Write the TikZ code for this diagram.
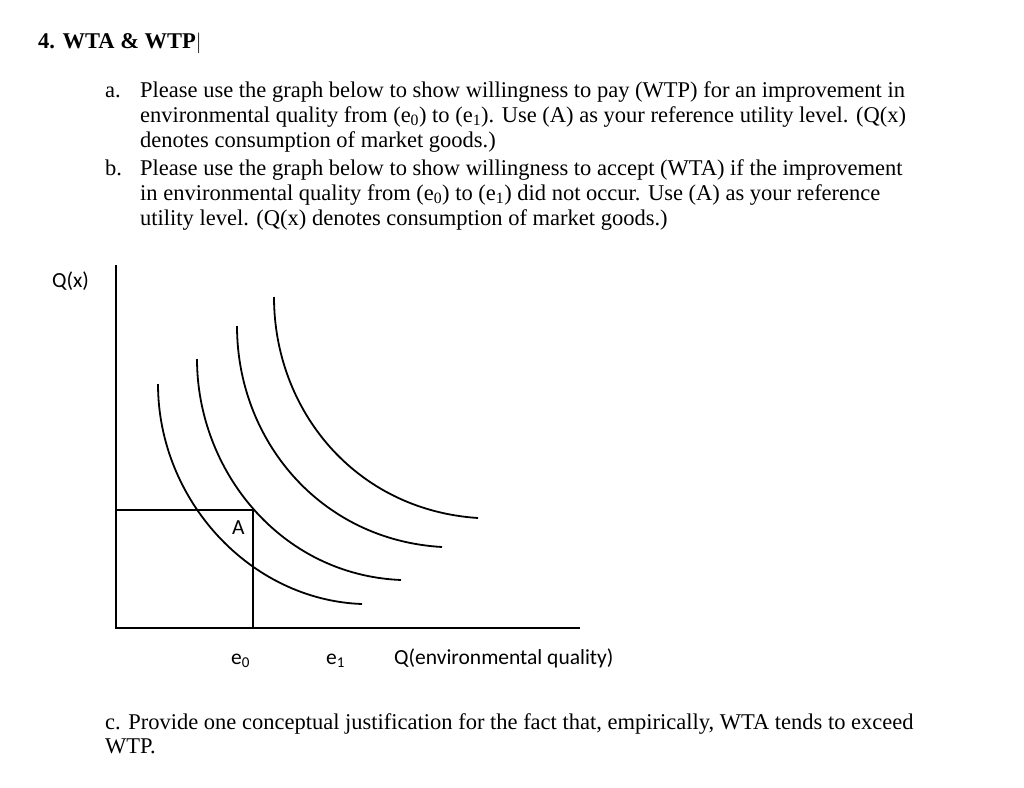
\documentclass[tikz,border=0pt]{standalone}
\usepackage{fontspec}
\setmainfont{Liberation Serif}
\newfontfamily\carlitofont{Carlito}
\begin{document}
\begin{tikzpicture}[x=1pt,y=-1pt,
  tx/.style={anchor=base west,inner sep=0pt,font=\fontsize{22.5}{25}\selectfont},
  lb/.style={anchor=base west,inner sep=0pt,font=\carlitofont\fontsize{21.5}{24}\selectfont},
  ln/.style={line width=1.8pt}]
\useasboundingbox (0,0) rectangle (1024,787);
\node[tx,font=\bfseries\fontsize{22.5}{25}\selectfont] (t) at (38,48) {4. WTA \& WTP$|$};
\node[tx] (a) at (105,97) {a.};
\node[tx] (a1) at (140,97) {Please use the graph below to show willingness to pay (WTP) for an improvement in};
\node[tx] (a2) at (140,122) {environmental quality from (e\textsubscript{0}) to (e\textsubscript{1}). Use (A) as your reference utility level. (Q(x)};
\node[tx] (a3) at (140,147) {denotes consumption of market goods.)};
\node[tx] (b) at (105,175) {b.};
\node[tx] (b1) at (140,175) {Please use the graph below to show willingness to accept (WTA) if the improvement};
\node[tx] (b2) at (140,200) {in environmental quality from (e\textsubscript{0}) to (e\textsubscript{1}) did not occur. Use (A) as your reference};
\node[tx] (b3) at (140,225) {utility level. (Q(x) denotes consumption of market goods.)};
\node[tx] (c1) at (105,729) {c. Provide one conceptual justification for the fact that, empirically, WTA tends to exceed};
\node[tx] (c2) at (105,753) {WTP.};
\node[lb] (qx) at (52,287) {Q(x)};
\node[lb] (e0) at (231,664) {e\textsubscript{0}};
\node[lb] (e1) at (326,664) {e\textsubscript{1}};
\node[lb] (qe) at (394,664) {Q(environmental quality)};
\node[lb] (A) at (232,534) {A};
\coordinate (o) at (116,628);
\coordinate (ytop) at (116,265);
\coordinate (xend) at (580,628);
\draw[ln] (ytop) -- (o) -- (xend);
\draw[ln] (116,510) -- (253,510) -- (253,628);
\draw[ln] (158,384) .. controls (158,500) and (250,600) .. (362,604);
\draw[ln] (197,359) .. controls (197,470) and (280,575) .. (401,580);
\draw[ln] (237,326) .. controls (237,440) and (320,540) .. (442,547);
\draw[ln] (274,297) .. controls (274,410) and (355,510) .. (478,518);
\end{tikzpicture}
\end{document}
